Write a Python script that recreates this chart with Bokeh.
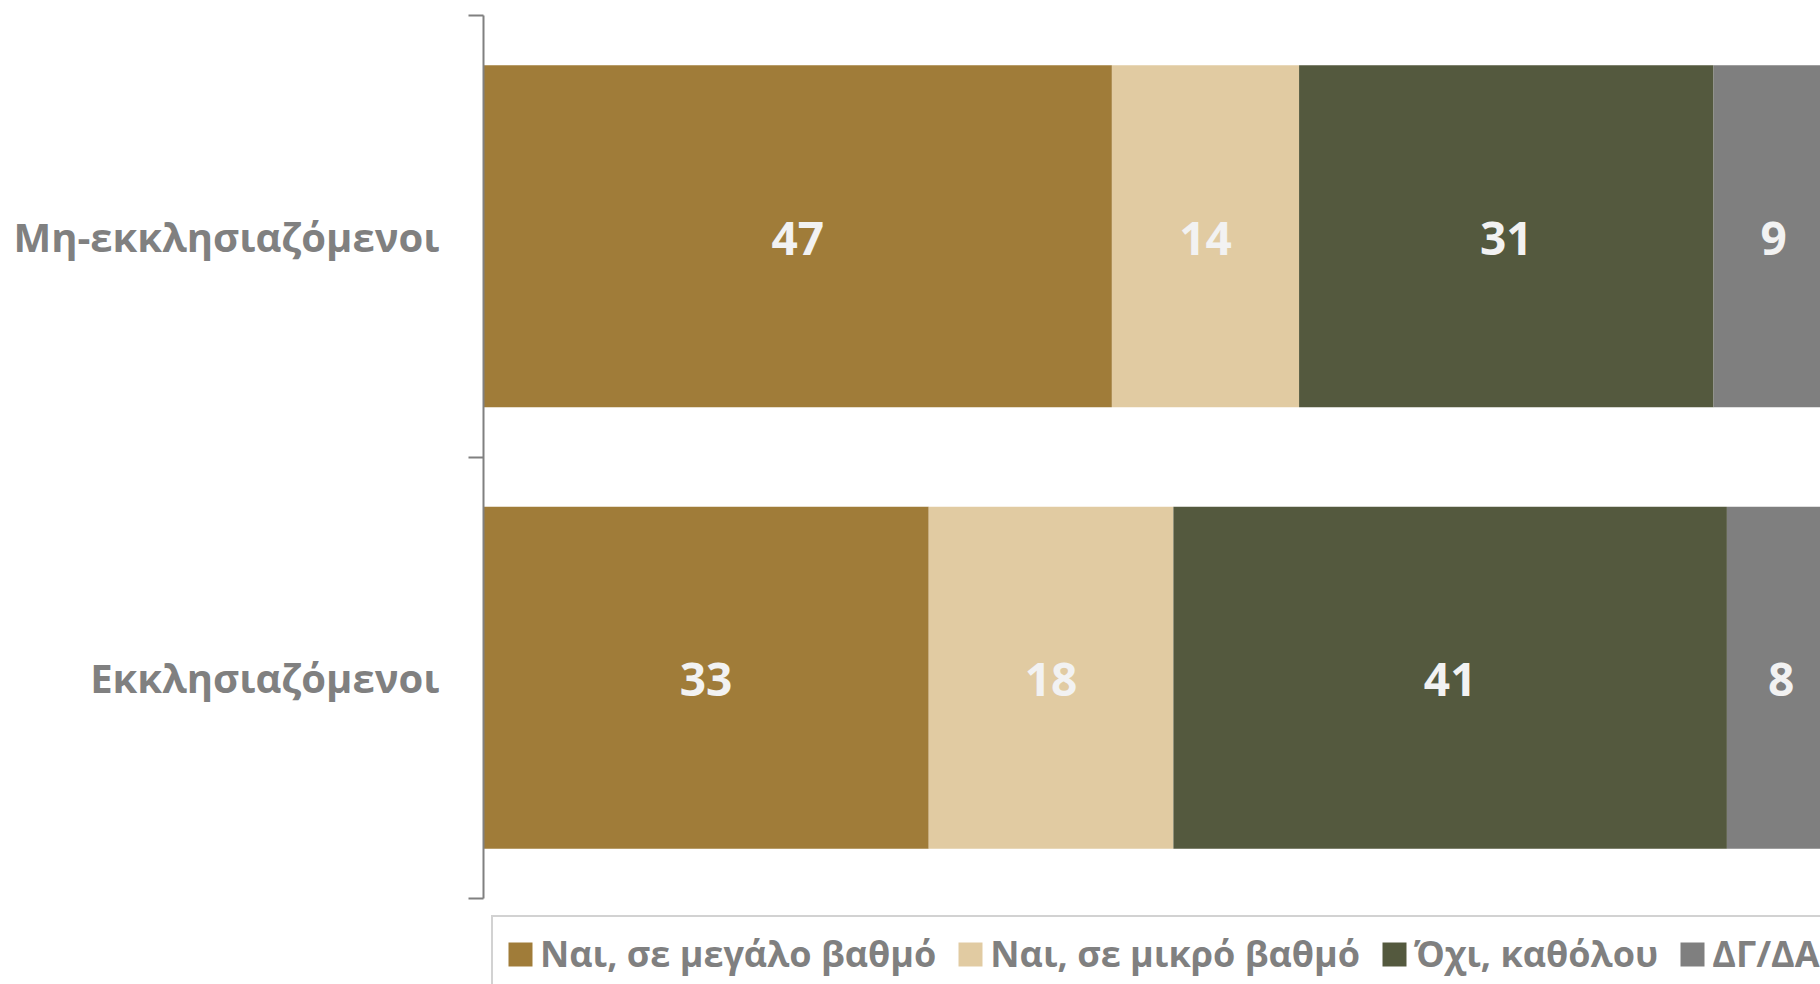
from bokeh.plotting import figure
from bokeh.models import ColumnDataSource, FixedTicker, Range1d, Legend, LegendItem
from bokeh.core.properties import value
from bokeh.embed import file_html
from bokeh.resources import INLINE

# ---- data ----
categories = ["Εκκλησιαζόμενοι", "Μη-εκκλησιαζόμενοι"]
cat_pos = [0.5, 1.5]
series = ["Ναι, σε μεγάλο βαθμό", "Ναι, σε μικρό βαθμό", "Όχι, καθόλου", "ΔΓ/ΔΑ"]
large = [33.3, 47.0]
small = [18.3, 14.0]
never = [41.4, 31.0]
dkna = [8.1, 9.0]
labels_large = ["33", "47"]
labels_small = ["18", "14"]
labels_never = ["41", "31"]
labels_dkna = ["8", "9"]
colors = ["#A07C39", "#E1CBA2", "#54593E", "#7F7F7F"]

FONT = "Open Sans"

keys = ["s0", "s1", "s2", "s3"]
source = ColumnDataSource(dict(y=cat_pos, s0=large, s1=small, s2=never, s3=dkna))

# frame: left 483, top 15, down to the bottom edge; categories occupy 0..2 (15..898 px)
p = figure(width=1820, height=984, output_backend="svg", toolbar_location=None,
           x_range=Range1d(0, 100), y_range=Range1d(-86.0 / 441.5, 2),
           min_border_left=483, min_border_right=0, min_border_top=15, min_border_bottom=0)

renderers = p.hbar_stack(keys, y="y", height=0.775, color=colors, line_color=None, source=source)

# value labels at segment centers
all_vals = [large, small, never, dkna]
all_labels = [labels_large, labels_small, labels_never, labels_dkna]
xs, ys, ts = [], [], []
for i in range(len(cat_pos)):
    left = 0.0
    for vals, labs in zip(all_vals, all_labels):
        xs.append(left + vals[i] / 2.0)
        ys.append(cat_pos[i])
        ts.append(labs[i])
        left += vals[i]
lsrc = ColumnDataSource(dict(x=xs, y=ys, t=ts))
p.text(x="x", y="y", text="t", source=lsrc, text_align="center", text_baseline="middle",
       text_color="#F2F2F2", text_font=value(FONT), text_font_style="bold",
       text_font_size="46px", y_offset=2)

# axes
p.xaxis.visible = False
p.xgrid.visible = False
p.ygrid.visible = False
p.outline_line_color = None

yax = p.yaxis[0]
yax.bounds = (0, 2)
yax.ticker = FixedTicker(ticks=cat_pos, minor_ticks=[0, 1, 2])
yax.major_label_overrides = {cat_pos[0]: categories[0], cat_pos[1]: categories[1]}
yax.axis_line_color = "#808080"
yax.axis_line_width = 2
yax.major_tick_line_color = None
yax.major_tick_out = 0
yax.major_tick_in = 0
yax.minor_tick_line_color = "#808080"
yax.minor_tick_line_width = 2
yax.minor_tick_out = 15
yax.minor_tick_in = 0
yax.major_label_standoff = 29
yax.major_label_text_font = FONT
yax.major_label_text_font_style = "bold"
yax.major_label_text_font_size = "40px"
yax.major_label_text_color = "#808080"

legend = Legend(items=[LegendItem(label=s, renderers=[r]) for s, r in zip(series, renderers)],
                orientation="horizontal", location=(8, -8),
                label_text_font=FONT, label_text_font_style="bold",
                label_text_font_size="36px", label_text_color="#808080",
                glyph_width=30, glyph_height=30, label_standoff=5, spacing=19,
                padding=12, margin=0,
                border_line_color="#A6A6A6", border_line_width=2,
                background_fill_color="white", background_fill_alpha=1.0)
p.add_layout(legend, "center")

open("out.html", "w").write(file_html(p, INLINE))
